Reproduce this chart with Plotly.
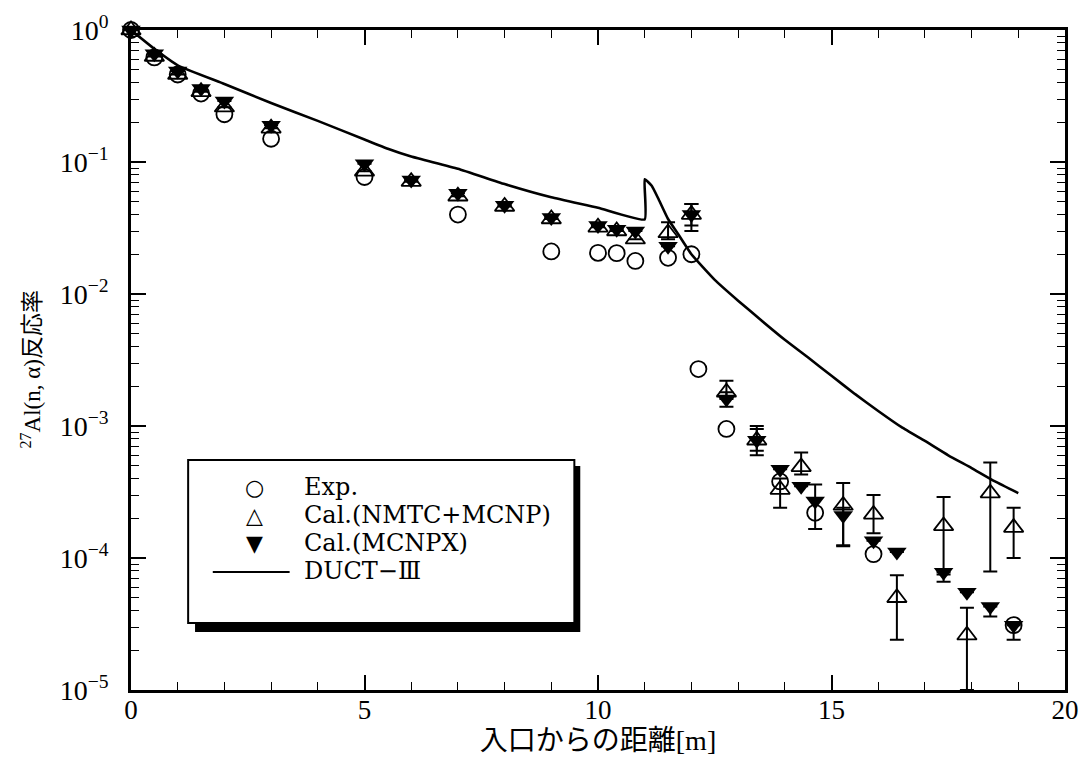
import plotly.graph_objects as go

# Distance from the duct entrance [m] and measured / calculated 27Al(n,alpha) reaction rates
exp_x = [0.0, 0.5, 1.0, 1.5, 2.0, 3.0, 5.0, 7.0, 9.0, 10.0, 10.4, 10.8, 11.5, 12.0,
         12.15, 12.75, 13.9, 14.65, 15.9, 18.9]
exp_y = [1.0, 0.62, 0.46, 0.33, 0.23, 0.15, 0.077, 0.040, 0.021, 0.0205, 0.0204, 0.0178,
         0.0188, 0.020, 0.0027, 0.00095, 0.00038, 0.00022, 0.000107, 3.1e-5]

nmtc_x = [0.0, 0.5, 1.0, 1.5, 2.0, 3.0, 5.0, 6.0, 7.0, 8.0, 9.0, 10.0, 10.4, 10.8, 11.5,
          12.0, 12.75, 13.4, 13.9, 14.35, 15.25, 15.9, 16.4, 17.4, 17.9, 18.4, 18.9]
nmtc_y = [1.0, 0.63, 0.46, 0.34, 0.26, 0.18, 0.085, 0.071, 0.055, 0.046, 0.037, 0.032,
          0.030, 0.026, 0.029, 0.040, 0.0018, 0.00078, 0.00033, 0.00049, 0.00025,
          0.000214, 5.0e-5, 0.000175, 2.6e-5, 0.00031, 0.00017]
nmtc_err_plus = [0, 0, 0, 0, 0, 0, 0, 0, 0, 0, 0, 0, 0, 0, 0.006,
                 0.008, 0.0004, 0.00022, 0.00007, 0.00014, 0.00012, 0.000086, 2.4e-5,
                 0.000115, 1.6e-5, 0.00022, 0.00007]
nmtc_err_minus = [0, 0, 0, 0, 0, 0, 0, 0, 0, 0, 0, 0, 0, 0, 0.003,
                  0.010, 0.0002, 0.00018, 0.00009, 0.00006, 0.000127, 0.00006, 2.6e-5,
                  0.0001, 1.6e-5, 0.000231, 0.00007]

mcnpx_x = [0.0, 0.5, 1.0, 1.5, 2.0, 3.0, 5.0, 6.0, 7.0, 8.0, 9.0, 10.0, 10.4, 10.8, 11.5,
           12.0, 12.75, 13.4, 13.9, 14.35, 14.65, 15.25, 15.9, 16.4, 17.4, 17.9, 18.4, 18.9]
mcnpx_y = [1.0, 0.66, 0.49, 0.36, 0.29, 0.19, 0.097, 0.073, 0.058, 0.047, 0.038, 0.033,
           0.031, 0.030, 0.023, 0.040, 0.0016, 0.00078, 0.00047, 0.00035, 0.00027,
           0.00021, 0.000135, 0.000111, 7.8e-5, 5.5e-5, 4.3e-5, 3.1e-5]
mcnpx_err_plus = [0, 0, 0, 0, 0, 0, 0, 0, 0, 0, 0, 0, 0, 0, 0,
                  0.008, 0.0002, 0.00017, 0, 0, 0.00009, 0.00003, 0, 0, 0, 0, 0, 0]
mcnpx_err_minus = [0, 0, 0, 0, 0, 0, 0, 0, 0, 0, 0, 0, 0, 0, 0,
                   0.007, 0.0002, 0.00013, 0, 0, 0.000104, 0.000085, 0, 0, 1.2e-5, 0,
                   7e-6, 7e-6]

duct_x = [0.0, 0.5, 1.0, 2.0, 3.0, 4.0, 5.0, 5.5, 6.0, 7.0, 8.0, 9.0, 10.0, 11.0, 11.0,
          11.15, 11.3, 11.5, 11.7, 12.0, 12.5, 13.0, 13.5, 14.0, 14.5, 15.0, 15.5, 16.0,
          16.5, 17.0, 17.5, 18.0, 18.5, 19.0]
duct_y = [1.0, 0.72, 0.54, 0.39, 0.28, 0.205, 0.148, 0.126, 0.11, 0.089, 0.068, 0.054,
          0.045, 0.0367, 0.074, 0.066, 0.052, 0.037, 0.029, 0.020, 0.0128, 0.0089, 0.0063,
          0.0045, 0.0033, 0.0024, 0.00175, 0.0013, 0.00098, 0.00077, 0.0006, 0.00048,
          0.00038, 0.00031]

y_tick_vals = [1, 1e-1, 1e-2, 1e-3, 1e-4, 1e-5]
y_tick_text = ["10<sup>0</sup>", "10<sup>−1</sup>", "10<sup>−2</sup>", "10<sup>−3</sup>",
               "10<sup>−4</sup>", "10<sup>−5</sup>"]

# Legend entries: glyph shown in the key, label text
legend_glyphs = ["○", "△", "▼", ""]
legend_labels = ["Exp.", "Cal.(NMTC+MCNP)", "Cal.(MCNPX)", "DUCT−Ⅲ"]

SERIF = "Liberation Serif, Noto Sans CJK JP, serif"
WIDE_SERIF = "DejaVu Serif, serif"
INK = "#000000"

# Plot-area geometry in pixels, used to place the legend and y title in paper units
W, H = 1090, 766
ML, MR, MT, MB = 131, 11, 30, 76
PW, PH = W - ML - MR, H - MT - MB


def px_x(p):
    return (p - ML) / PW


def px_y(p):
    return (H - MB - p) / PH


fig = go.Figure()

fig.add_trace(go.Scatter(
    x=duct_x, y=duct_y, mode="lines", name="DUCT−Ⅲ", showlegend=False,
    line=dict(color=INK, width=2.6, shape="spline", smoothing=0.4),
))
fig.add_trace(go.Scatter(
    x=exp_x, y=exp_y, mode="markers", name="Exp.", showlegend=False, cliponaxis=False,
    marker=dict(symbol="circle-open", size=16, color=INK, line=dict(width=1.8)),
))
fig.add_trace(go.Scatter(
    x=nmtc_x, y=nmtc_y, mode="markers", name="Cal.(NMTC+MCNP)", showlegend=False,
    cliponaxis=False,
    marker=dict(symbol="triangle-up-open", size=17, color=INK, line=dict(width=1.8)),
    error_y=dict(type="data", array=nmtc_err_plus, arrayminus=nmtc_err_minus,
                 color=INK, thickness=2, width=7),
))
fig.add_trace(go.Scatter(
    x=mcnpx_x, y=mcnpx_y, mode="markers", name="Cal.(MCNPX)", showlegend=False,
    cliponaxis=False,
    marker=dict(symbol="triangle-down", size=17, color=INK, line=dict(width=0)),
    error_y=dict(type="data", array=mcnpx_err_plus, arrayminus=mcnpx_err_minus,
                 color=INK, thickness=2, width=7),
))

# Legend frame with a heavy drop shadow
fig.add_shape(type="rect", xref="paper", yref="paper",
              x0=px_x(196), x1=px_x(587), y0=px_y(632), y1=px_y(466),
              fillcolor=INK, line=dict(width=0), layer="above")
fig.add_shape(type="rect", xref="paper", yref="paper",
              x0=px_x(189), x1=px_x(581), y0=px_y(623), y1=px_y(460),
              fillcolor="white", line=dict(color=INK, width=2), layer="above")

row_y = [487, 515, 543, 571]
for glyph, label, ry in zip(legend_glyphs, legend_labels, row_y):
    if glyph:
        fig.add_annotation(x=px_x(256), y=px_y(ry), xref="paper", yref="paper",
                           text=glyph, showarrow=False, xanchor="center", yanchor="middle",
                           font=dict(family="DejaVu Sans, sans-serif", size=22, color=INK))
    else:
        fig.add_shape(type="line", xref="paper", yref="paper",
                      x0=px_x(214), x1=px_x(292), y0=px_y(ry + 1), y1=px_y(ry + 1),
                      line=dict(color=INK, width=2), layer="above")
    fig.add_annotation(x=px_x(305), y=px_y(ry), xref="paper", yref="paper",
                       text=label, showarrow=False, xanchor="left", yanchor="middle",
                       font=dict(family=WIDE_SERIF, size=24, color=INK))

# Rotated y-axis title
fig.add_annotation(x=px_x(29), y=px_y(370), xref="paper", yref="paper",
                   text="<sup>27</sup>Al(n, α)反応率", textangle=-90, showarrow=False,
                   xanchor="center", yanchor="middle",
                   font=dict(family=SERIF, size=23, color=INK))

fig.update_layout(
    width=W, height=H,
    margin=dict(l=ML, r=MR, t=MT, b=MB),
    paper_bgcolor="white", plot_bgcolor="white",
    font=dict(family=SERIF, color=INK, size=22),
    showlegend=False,
    xaxis=dict(
        range=[0, 20], tickvals=[0, 5, 10, 15, 20],
        ticks="inside", ticklen=15, tickwidth=1.6, tickcolor=INK,
        showline=True, linecolor=INK, linewidth=2.8, mirror="allticks",
        showgrid=False, zeroline=False,
        minor=dict(dtick=1, ticks="inside", ticklen=8, tickwidth=1.3, tickcolor=INK,
                   showgrid=False),
        tickfont=dict(family=SERIF, size=27),
        ticklabelstandoff=-6,
        title=dict(text="入口からの距離[m]", font=dict(family=SERIF, size=28), standoff=4),
    ),
    yaxis=dict(
        type="log", range=[-5, 0], tickvals=y_tick_vals, ticktext=y_tick_text,
        ticks="inside", ticklen=15, tickwidth=1.6, tickcolor=INK,
        showline=True, linecolor=INK, linewidth=2.8, mirror="allticks",
        showgrid=False, zeroline=False,
        minor=dict(dtick="D1", ticks="inside", ticklen=8, tickwidth=1.3, tickcolor=INK,
                   showgrid=False),
        tickfont=dict(family=SERIF, size=28),
        ticklabelstandoff=14,
    ),
)

fig.write_html("out.html")
